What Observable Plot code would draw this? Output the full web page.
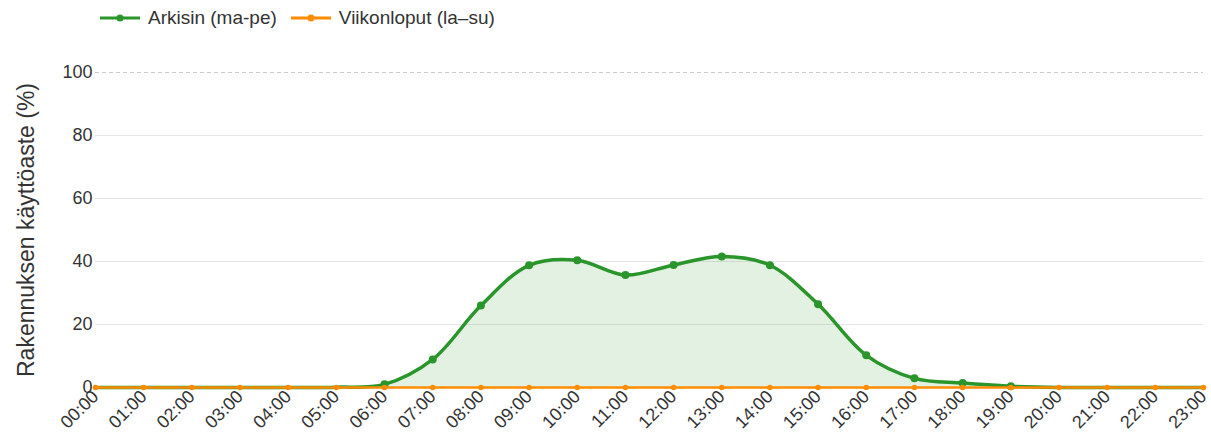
<!DOCTYPE html>
<html>
<head>
<meta charset="utf-8">
<script src="https://cdn.jsdelivr.net/npm/d3@7"></script>
<script src="https://cdn.jsdelivr.net/npm/@observablehq/plot@0.6"></script>
<style>
  html, body { margin: 0; padding: 0; background: #fff; }
  body { width: 1211px; height: 442px; overflow: hidden; font-family: "Liberation Sans", Arial, sans-serif; }
  #legend { height: 40px; display: flex; align-items: center; padding-left: 100px; padding-bottom: 4px; font-size: 19px; color: #333; box-sizing: border-box; }
  .item { display: flex; align-items: center; margin-right: 14px; }
  .item svg { margin-right: 8px; }
</style>
</head>
<body>
<div id="legend"></div>
<div id="chart"></div>
<script>
const hours = ["00:00","01:00","02:00","03:00","04:00","05:00","06:00","07:00","08:00","09:00","10:00","11:00","12:00","13:00","14:00","15:00","16:00","17:00","18:00","19:00","20:00","21:00","22:00","23:00"];
const weekday = [0, 0, 0, 0, 0, 0.1, 1.0, 8.9, 26.0, 38.8, 40.4, 35.7, 38.9, 41.6, 38.8, 26.4, 10.2, 2.9, 1.4, 0.4, 0, 0, 0, 0];
const weekend = [0, 0, 0, 0, 0, 0, 0, 0, 0, 0, 0, 0, 0, 0, 0, 0, 0, 0, 0, 0, 0, 0, 0, 0];
const seriesNames = ["Arkisin (ma-pe)", "Viikonloput (la–su)"];
const seriesColors = ["#2a952a", "#ff8c00"];
const yTicks = [0, 20, 40, 60, 80, 100];
const yTitle = "Rakennuksen käyttöaste (%)";

// legend
const legend = document.getElementById("legend");
seriesNames.forEach((name, i) => {
  const item = document.createElement("div");
  item.className = "item";
  item.innerHTML = `<svg width="40" height="10"><line x1="0" y1="5" x2="40" y2="5" stroke="${seriesColors[i]}" stroke-width="3"/><circle cx="20" cy="5" r="3.5" fill="${seriesColors[i]}"/></svg><span>${name}</span>`;
  legend.appendChild(item);
});

const wd = hours.map((h, i) => ({h: i, v: weekday[i]}));
const we = hours.map((h, i) => ({h: i, v: weekend[i]}));

const chart = Plot.plot({
  width: 1211,
  height: 402,
  marginTop: 32,
  marginBottom: 55,
  marginLeft: 95,
  marginRight: 8,
  style: {fontFamily: "Liberation Sans, Arial, sans-serif", fontSize: "18px", color: "#333", background: "#fff"},
  x: {domain: [0, 23], ticks: d3.range(hours.length), tickFormat: d => hours[d], tickRotate: -45, tickSize: 0, tickPadding: 6, label: null},
  y: {domain: [0, 100], ticks: yTicks, tickSize: 0, tickPadding: 3, label: yTitle, labelAnchor: "center", labelArrow: "none", labelOffset: 78},
  marks: [
    Plot.ruleY(yTicks.filter(t => t > 0 && t < 100), {stroke: "#e6e6e6", strokeWidth: 1}),
    Plot.ruleY([100], {stroke: "#cccccc", strokeDasharray: "4,3", strokeWidth: 1}),
    Plot.areaY(wd, {x: "h", y: "v", curve: "catmull-rom", fill: seriesColors[0], fillOpacity: 0.13}),
    Plot.lineY(wd, {x: "h", y: "v", curve: "catmull-rom", stroke: seriesColors[0], strokeWidth: 3.5}),
    Plot.dot(wd, {filter: d => d.v >= 0.3, x: "h", y: "v", r: 4, fill: seriesColors[0]}),
    Plot.lineY(we, {x: "h", y: "v", stroke: seriesColors[1], strokeWidth: 2.5}),
    Plot.dot(we, {x: "h", y: "v", r: 2.8, fill: seriesColors[1]})
  ]
});
chart.querySelectorAll('[aria-label="y-axis label"] text').forEach(t => t.style.fontSize = "23px");
document.getElementById("chart").appendChild(chart);
</script>
</body>
</html>
